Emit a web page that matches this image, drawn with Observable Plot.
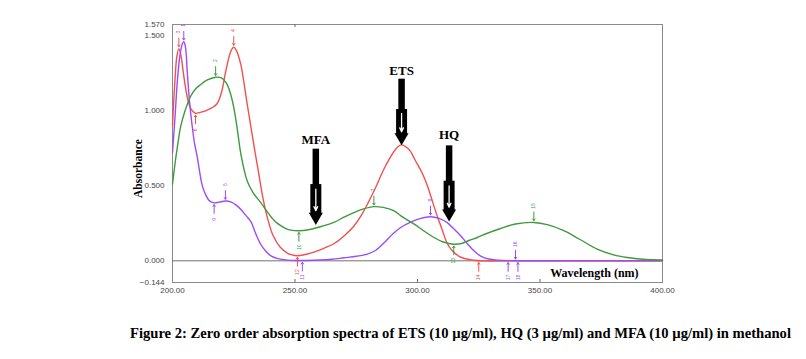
<!DOCTYPE html>
<html>
<head>
<meta charset="utf-8">
<script src="https://cdn.jsdelivr.net/npm/d3@7"></script>
<script src="https://cdn.jsdelivr.net/npm/@observablehq/plot@0.6"></script>
<style>
  body { margin: 0; background: #fff; }
  #wrap { position: relative; width: 806px; height: 359px; }
  #caption { position: absolute; left: 130px; top: 325px; white-space: nowrap;
    font: bold 14.6px "Liberation Serif", "Times New Roman", serif; color: #000; }
</style>
</head>
<body>
<div id="wrap"><div id="chart"></div>
<div id="caption">Figure 2: Zero order absorption spectra of ETS (10 µg/ml), HQ (3 µg/ml) and MFA (10 µg/ml) in methanol</div>
</div>
<script>
// ETS (red)
const etsWl = [200,201,201.8,202.6,203.5,204.5,206,207.5,209.4,211,214,218,220,221.5,223,224,225,226,227.8,229,230.5,232,233.5,235,237,239,241,244,247,250,252,255,258,262,266,270,274,277,280,283,286,289,291,293.3,295,297,299,302,304,306,308,310,312,314,317,320,323,326,340,360,380,400];
const etsAbs = [0.90,1.20,1.36,1.41,1.36,1.24,1.09,1.01,0.98,0.985,1.0,1.04,1.12,1.24,1.35,1.40,1.42,1.40,1.31,1.20,1.04,0.89,0.74,0.60,0.41,0.27,0.17,0.09,0.05,0.035,0.035,0.045,0.06,0.085,0.115,0.165,0.23,0.30,0.39,0.49,0.60,0.69,0.74,0.77,0.76,0.73,0.67,0.58,0.50,0.40,0.30,0.21,0.12,0.07,0.03,0.012,0.004,0,0,0,0,0];
// HQ (purple)
const hqWl = [200,201,202,203,204,204.6,205.3,206,207,208,209,210,211,212,213.5,215,217,219,221.6,224,226,228,230,232,234,236,238,240,243,247,252,260,265,270,275,279.5,283,287,290,293,297,301,305.3,309,312,315,317.6,320,323,326,329,333,338,345,400];
const hqAbs = [0.72,0.95,1.2,1.36,1.44,1.455,1.42,1.26,1.05,0.9,0.78,0.70,0.60,0.51,0.44,0.40,0.385,0.39,0.397,0.39,0.37,0.34,0.30,0.26,0.18,0.11,0.065,0.035,0.015,0.005,0.002,0.005,0.01,0.02,0.03,0.045,0.07,0.13,0.18,0.22,0.255,0.28,0.293,0.28,0.255,0.21,0.167,0.12,0.067,0.03,0.012,0.004,0.001,0,0];
// MFA (green)
const mfaWl = [200,201.2,202.3,203.3,205,207.3,209.3,211.4,214,217.6,220,222,223.5,225,226.4,228,230.5,233,235.9,238.5,241.4,244,246.8,249,251.6,255,260,265.8,270,274,278,282.2,286,290.3,294,298.5,302.5,306.7,310.5,314.8,318,321,324.4,328,333.9,340,347.5,353,359.7,366,373.3,380,385.6,392,400];
const mfaAbs = [0.51,0.667,0.79,0.89,0.99,1.09,1.14,1.17,1.2,1.22,1.215,1.18,1.12,1.02,0.88,0.70,0.53,0.45,0.39,0.33,0.27,0.235,0.21,0.202,0.2,0.205,0.225,0.255,0.29,0.32,0.345,0.36,0.355,0.333,0.29,0.245,0.2,0.155,0.125,0.11,0.115,0.135,0.155,0.18,0.215,0.245,0.255,0.24,0.2,0.145,0.078,0.04,0.022,0.01,0.005];

const seriesNames = ["ETS","HQ","MFA"];
const seriesColors = ["#f2504f","#9b4df5","#3e9a3e"];

// peak-pick markers: wavelength, absorbance, series, side (1 above, -1 below), label
const markWl   = [202.6,204.6,209.4,217.6,225,217,221.6,251.6,251,253,282.2,305.3,314.8,325,347.5,340,337,341];
const markAbs  = [1.41,1.455,0.98,1.22,1.42,0.385,0.397,0.2,0.035,0.002,0.36,0.293,0.11,0,0.255,0,0,0];
const markSer  = ["ETS","HQ","ETS","MFA","ETS","HQ","HQ","MFA","ETS","HQ","MFA","HQ","MFA","ETS","MFA","HQ","HQ","HQ"];
const markSide = [1,1,-1,1,1,-1,1,-1,-1,-1,1,1,-1,-1,1,1,-1,-1];
const markLbl  = ["3","1","6","2","4","9","5","10","12","11","7","8","13","14","15","16","17","18"];

// big annotation arrows
const bigNames = ["MFA","ETS","HQ"];
const bigWl    = [258.5,293.5,312.9];
const bigTop   = [0.745,1.21,0.767];
const bigTip   = [0.255,0.79,0.278];
const bigLblY  = [0.805,1.262,0.838];

const xTicks = [200,250,300,350,400];
const yTicks = [-0.144,0,0.5,1,1.5,1.57];
const yTitle = "Absorbance";
const xTitle = "Wavelength (nm)";

const color = Object.fromEntries(seriesNames.map((s,i)=>[s,seriesColors[i]]));
const curves = [
  ...etsWl.map((w,i)=>({s:"ETS", wl:w, a:etsAbs[i]})),
  ...hqWl.map((w,i)=>({s:"HQ", wl:w, a:hqAbs[i]})),
  ...mfaWl.map((w,i)=>({s:"MFA", wl:w, a:mfaAbs[i]}))
];
const marks = markWl.map((w,i)=>({wl:w, a:markAbs[i], s:markSer[i], side:markSide[i], lbl:markLbl[i]}));
const bigs = bigNames.map((n,i)=>{
  const top = bigTop[i], tip = bigTip[i], L = top - tip;
  return {n, x:bigWl[i], top, tip, L, ly:bigLblY[i]};
});

const serif = "Liberation Serif, Times New Roman, serif";
const chart = Plot.plot({
  width: 806, height: 310,
  marginLeft: 172, marginRight: 144, marginTop: 24, marginBottom: 28,
  x: {domain:[200,400]},
  y: {domain:[-0.144,1.57]},
  style: {fontFamily: "Liberation Sans, Arial, sans-serif", background:"#fff"},
  marks: [
    Plot.frame({stroke:"#8a8a8a", strokeWidth:1}),
    Plot.axisX({ticks:xTicks, tickSize:0, tickPadding:5, tickFormat:d3.format(".2f"), fontSize:8, fill:"#444", label:null}),
    Plot.axisY({ticks:yTicks, tickSize:0, tickPadding:8, tickFormat:d3.format(".3f"), fontSize:8, fill:"#444", label:null}),
    Plot.text([yTitle], {x:200, y:0.613, dx:-34, text:d=>d, rotate:-90, fontSize:11.5, fontWeight:"bold", fontFamily:serif, fill:"#000"}),
    Plot.ruleX([250,300,350], {y1:-0.144, y2:-0.124, stroke:"#666"}),
    Plot.ruleX([250], {y1:1.57, y2:1.55, stroke:"#666"}),
    Plot.ruleY([0], {stroke:"#707070", strokeWidth:1}),
    Plot.line(curves, {x:"wl", y:"a", z:"s", stroke:d=>color[d.s], strokeWidth:1.4, curve:"catmull-rom"}),
    Plot.arrow(marks, {x1:"wl", x2:"wl", y1:d=>d.a + d.side*0.07, y2:d=>d.a + d.side*0.012,
      stroke:d=>color[d.s], strokeWidth:1, headLength:3, headAngle:70}),
    Plot.text(marks, {x:"wl", y:d=>d.a + d.side*0.11, text:"lbl", fill:d=>color[d.s], fontSize:5, rotate:-90}),
    // big black arrows
    Plot.link(bigs, {x1:"x", x2:"x", y1:"top", y2:d=>d.tip + d.L*0.2, stroke:"#000", strokeWidth:6.5, strokeLinecap:"butt"}),
    Plot.link(bigs, {x1:"x", x2:"x", y1:d=>d.top - d.L*0.48, y2:d=>d.tip + d.L*0.1, stroke:"#000", strokeWidth:11, strokeLinecap:"butt"}),
    Plot.dot(bigs, {x:"x", y:d=>d.tip + d.L*0.075, symbol:"triangle", rotate:180, r:5.2, fill:"#000", stroke:"none"}),
    Plot.arrow(bigs, {x1:"x", x2:"x", y1:d=>d.top - d.L*0.55, y2:d=>d.tip + d.L*0.16, stroke:"#fff", strokeWidth:1.3, headLength:5, headAngle:50}),
    Plot.text(bigs, {x:"x", y:"ly", text:"n", fontSize:13, fontWeight:"bold", fontFamily:serif, fill:"#000"}),
    Plot.text([xTitle], {x:372.2, y:-0.08, text:d=>d, fontSize:12, fontWeight:"bold", fontFamily:serif, fill:"#000"})
  ]
});
document.getElementById("chart").appendChild(chart);
</script>
</body>
</html>
